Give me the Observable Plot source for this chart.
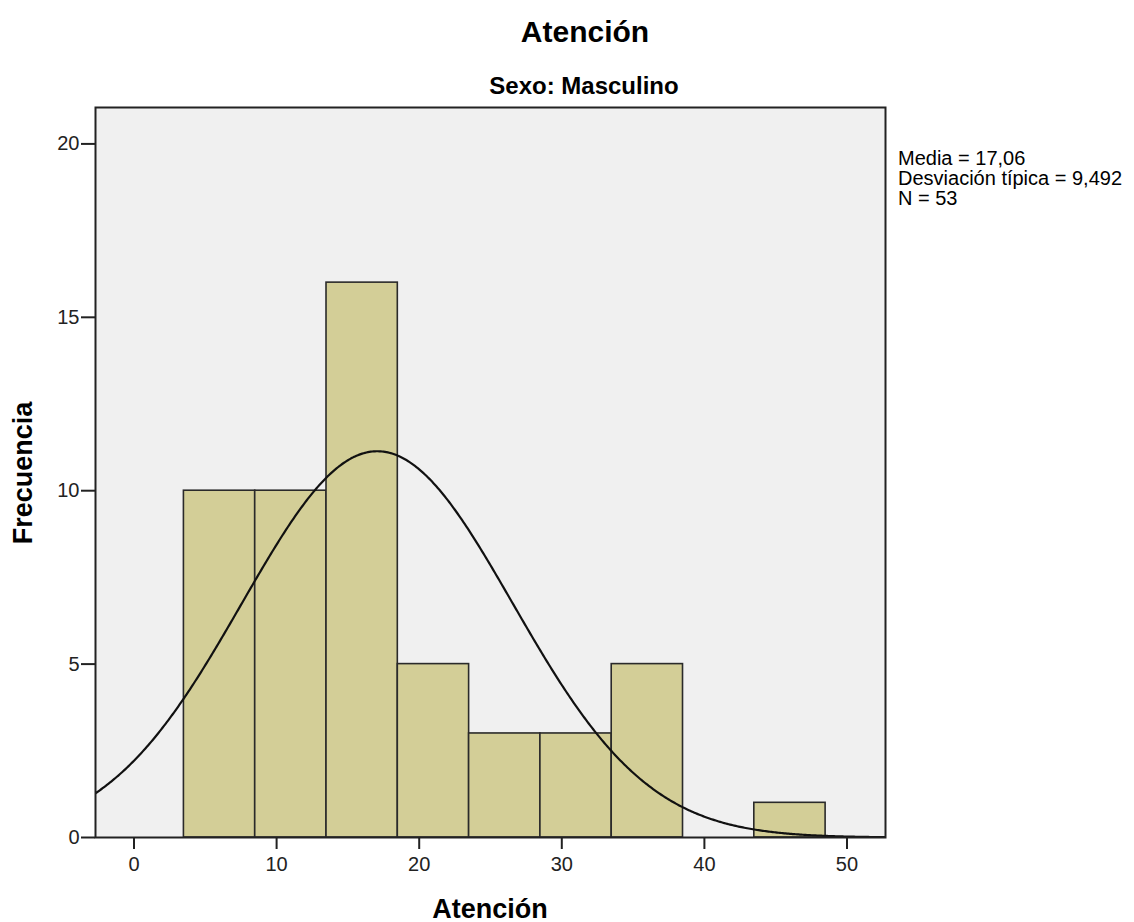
<!DOCTYPE html>
<html>
<head>
<meta charset="utf-8">
<script src="https://cdn.jsdelivr.net/npm/d3@7"></script>
<script src="https://cdn.jsdelivr.net/npm/@observablehq/plot@0.6"></script>
<style>
  html, body { margin: 0; padding: 0; background: #ffffff; }
  #wrap { position: relative; width: 1134px; height: 922px; font-family: "Liberation Sans", Arial, sans-serif; color: #000; }
  #chart { position: absolute; left: 0; top: 0; }
  .abs { position: absolute; white-space: nowrap; }
  #title { left: 585px; top: 14px; transform: translateX(-50%); font-size: 30px; font-weight: bold; line-height: 36px; }
  #subtitle { left: 584px; top: 71px; transform: translateX(-50%); font-size: 24px; font-weight: bold; line-height: 30px; }
  #stats { left: 898px; top: 148px; font-size: 20px; line-height: 20px; }
  #xlabel { left: 490px; top: 893px; transform: translateX(-50%); font-size: 27px; font-weight: bold; line-height: 32px; }
  #ylabel { left: 23px; top: 473px; transform: translate(-50%, -50%) rotate(-90deg); font-size: 27px; font-weight: bold; line-height: 32px; }
</style>
</head>
<body>
<div id="wrap">
  <div id="chart"></div>
  <div class="abs" id="title"></div>
  <div class="abs" id="subtitle"></div>
  <div class="abs" id="stats"></div>
  <div class="abs" id="xlabel"></div>
  <div class="abs" id="ylabel"></div>
</div>
<script>
// Histogram bins (lower edge, upper edge) and frequencies
const binStart = [3.5, 8.5, 13.5, 18.5, 23.5, 28.5, 33.5, 38.5, 43.5];
const binEnd   = [8.5, 13.5, 18.5, 23.5, 28.5, 33.5, 38.5, 43.5, 48.5];
const freq     = [10, 10, 16, 5, 3, 3, 5, 0, 1];

// Summary statistics shown in the chart
const statMean = 17.06;
const statSD = 9.492;
const statN = 53;
const statLines = ["Media = 17,06", "Desviación típica = 9,492", "N = 53"];

// Tick labels
const xTicks = [0, 10, 20, 30, 40, 50];
const yTicks = [0, 5, 10, 15, 20];

// Texts
const titleText = "Atención";
const subtitleText = "Sexo: Masculino";
const xLabelText = "Atención";
const yLabelText = "Frecuencia";

const xDomain = [-2.7, 52.7];
const yDomain = [0, 21.05];

const bins = binStart.map((s, i) => ({x1: s, x2: binEnd[i], y: freq[i]})).filter(d => d.y > 0);

// Fitted normal curve (scaled to counts) from the displayed mean / sd / N
const binWidth = binEnd[0] - binStart[0];
const curvePts = d3.range(xDomain[0], xDomain[1] + 0.001, 0.1).map(x => {
  const z = (x - statMean) / statSD;
  return {x, y: statN * binWidth * Math.exp(-0.5 * z * z) / (statSD * Math.sqrt(2 * Math.PI))};
});

const chart = Plot.plot({
  width: 1134,
  height: 922,
  marginLeft: 95,
  marginRight: 249,
  marginTop: 107,
  marginBottom: 85,
  style: {fontFamily: "Liberation Sans, Arial, sans-serif", fontSize: "20px", color: "#000", background: "transparent"},
  x: {domain: xDomain},
  y: {domain: yDomain},
  marks: [
    Plot.frame({fill: "#f0f0f0"}),
    Plot.rectY(bins, {x1: "x1", x2: "x2", y: "y", fill: "#d3ce97", stroke: "#2a2a2a", strokeWidth: 1.6, inset: 0}),
    Plot.line(curvePts, {x: "x", y: "y", stroke: "#111", strokeWidth: 2.2, clip: "frame"}),
    Plot.frame({stroke: "#222", strokeWidth: 2}),
    Plot.axisX({ticks: xTicks, tickSize: 12, tickPadding: 7, tickFormat: d => String(d), label: null, stroke: "#222", strokeWidth: 2, fill: "#222"}),
    Plot.axisY({ticks: yTicks, tickSize: 14, tickPadding: 2, tickFormat: d => String(d), label: null, stroke: "#222", strokeWidth: 2, fill: "#222"})
  ]
});
document.getElementById("chart").appendChild(chart);

document.getElementById("title").textContent = titleText;
document.getElementById("subtitle").textContent = subtitleText;
document.getElementById("xlabel").textContent = xLabelText;
document.getElementById("ylabel").textContent = yLabelText;
document.getElementById("stats").innerHTML = statLines.map(s => `<div>${s}</div>`).join("");
</script>
</body>
</html>
